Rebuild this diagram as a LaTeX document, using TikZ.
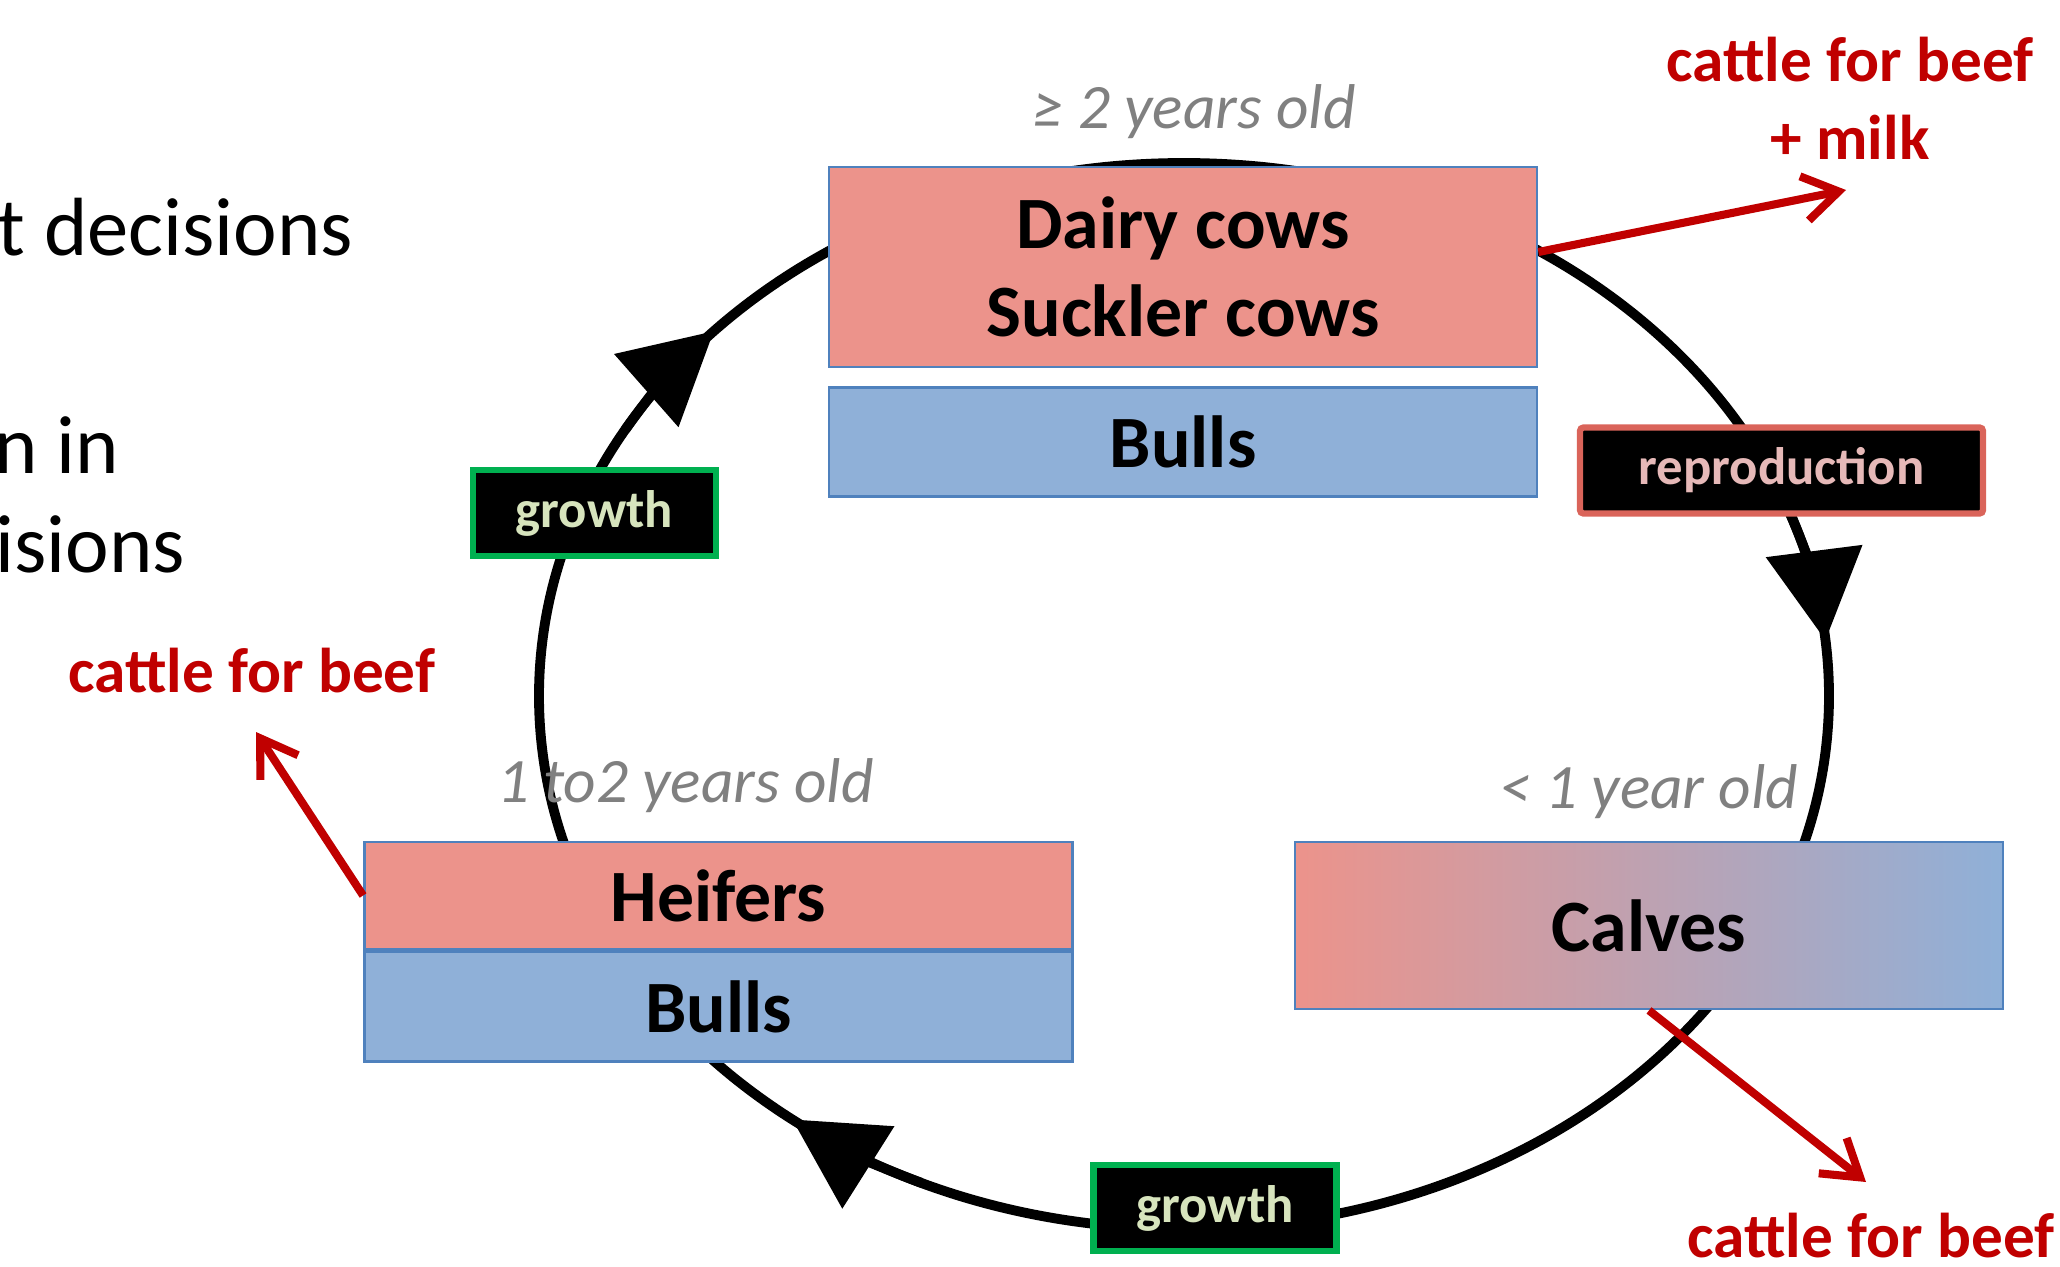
\documentclass[tikz,border=0pt]{standalone}
\usepackage{fontspec}
\setmainfont{Carlito}
\usepackage{tikz}
\usetikzlibrary{arrows.meta,positioning}

\definecolor{cowpink}{RGB}{236,147,139}
\definecolor{bullblue}{RGB}{143,176,216}
\definecolor{edgeblue}{RGB}{79,129,189}
\definecolor{beefred}{RGB}{192,0,0}
\definecolor{growgreen}{RGB}{0,176,80}
\definecolor{growtext}{RGB}{215,228,189}
\definecolor{reprored}{RGB}{218,100,90}
\definecolor{reprotext}{RGB}{230,185,184}
\definecolor{agegrey}{RGB}{128,128,128}

\begin{document}
\begin{tikzpicture}[herd/.style={rectangle,draw=edgeblue,line width=0.8pt,minimum width=7.08cm,inner sep=0pt,align=center,font=\fontsize{21}{25}\selectfont\bfseries},
	cow/.style={herd,fill=cowpink},
	bull/.style={herd,fill=bullblue},
	tagbox/.style={rectangle,fill=black,line width=1.8pt,minimum height=0.86cm,inner sep=0pt,font=\fontsize{15}{18}\selectfont\bfseries},
	growbox/.style={tagbox,draw=growgreen,text=growtext,minimum width=2.43cm},
	reprobox/.style={tagbox,draw=reprored,text=reprotext,minimum width=4.03cm,rounded corners=1pt},
	age/.style={anchor=base,inner sep=0pt,text=agegrey,font=\fontsize{18}{22}\selectfont\itshape},
	beef/.style={inner sep=0pt,align=center,text=beefred,font=\fontsize{18}{22}\selectfont\bfseries},
	sell/.style={draw=beefred,line width=2.3pt,-{Straight Barb[length=3.5mm,width=4.5mm]}},
	ring/.style={line width=2.8pt},
	ringhead/.style={ring,-{Triangle[length=9mm,width=9.5mm]}},
	side/.style={anchor=base west,inner sep=0pt,font=\fontsize{23.5}{28}\selectfont}]
	\path[use as bounding box,clip] (0,0) rectangle (20.6,-12.67);
	% life cycle
	\coordinate (c) at (11.84,-6.96);
	\draw[ring] (c) ellipse [x radius=6.45,y radius=5.33];
	\draw[ringhead] (c) ++(150:6.45 and 5.33) arc[start angle=150,end angle=136.8,x radius=6.45,y radius=5.33];
	\draw[ringhead] (c) ++(20:6.45 and 5.33) arc[start angle=20,end angle=6,x radius=6.45,y radius=5.33];
	\draw[ringhead] (c) ++(246:6.45 and 5.33) arc[start angle=246,end angle=232.6,x radius=6.45,y radius=5.33];
	\node[cow,minimum height=2cm] (cows) at (11.83,-2.67) {Dairy cows\\Suckler cows};
	\node[bull,minimum height=1.09cm,below=0.18cm of cows] (bulls) {Bulls};
	\node[cow,minimum height=1.07cm] (heifers) at (7.185,-8.955) {Heifers};
	\node[bull,minimum height=1.1cm,below=0pt of heifers] (steers) {Bulls};
	\node[herd,minimum height=1.67cm,left color=cowpink,right color=bullblue] (calves) at (16.49,-9.255) {Calves};
	\node[growbox] (grow1) at (5.945,-5.13) {growth};
	\node[growbox] (grow2) at (12.15,-12.08) {growth};
	\node[reprobox] (repro) at (17.815,-4.705) {reproduction};
	\node[age] (age2) at (11.94,-1.28) {≥ 2 years old};
	\node[age] (age1) at (6.855,-8.02) {1 to2 years old};
	\node[age] (age0) at (16.49,-8.08) {< 1 year old};
	% cattle leaving the herd
	\node[beef,anchor=south] (beefmilk) at (18.50,-1.60) {cattle for beef\\+ milk};
	\node[beef,anchor=base] (beefold) at (2.52,-6.92) {cattle for beef};
	\node[beef,anchor=base] (beefcalf) at (18.71,-12.57) {cattle for beef};
	\coordinate (tipmilk) at (18.46,-1.90);
	\coordinate (tipold) at (2.56,-7.32);
	\coordinate (tipcalf) at (18.66,-11.82);
	\draw[sell] ([yshift=1.5mm]cows.east) -- (tipmilk);
	\draw[sell] (heifers.west) -- (tipold);
	\draw[sell] (calves.south) -- (tipcalf);
	\node[side] (dec1) at (-0.03,-2.55) {t decisions};
	\node[side] (dec2) at (-0.06,-4.73) {n in};
	\node[side] (dec3) at (-0.40,-5.72) {cisions};
\end{tikzpicture}
\end{document}
